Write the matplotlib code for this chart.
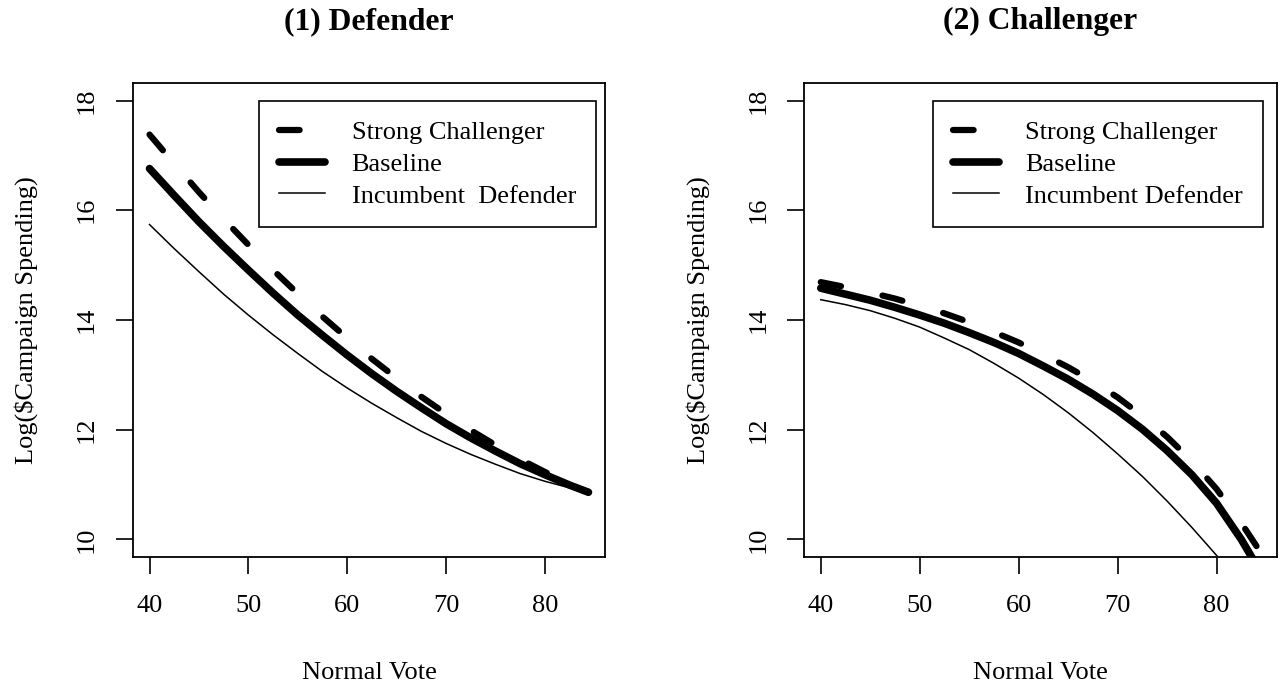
import matplotlib
matplotlib.use("Agg")
import matplotlib.pyplot as plt

# ===================== data =====================
vote = [40, 42.5, 45, 47.5, 50, 52.5, 55, 57.5, 60, 62.5, 65, 67.5, 70,
        72.5, 75, 77.5, 80, 82.5, 84.4]

# (1) Defender
def_strong = [17.38, 16.85, 16.33, 15.84, 15.37, 14.91, 14.48, 14.06, 13.67, 13.29,
              12.94, 12.60, 12.29, 11.99, 11.72, 11.46, 11.23, 11.01, 10.86]
def_base = [16.76, 16.27, 15.79, 15.34, 14.91, 14.49, 14.09, 13.72, 13.36, 13.02,
            12.70, 12.40, 12.11, 11.85, 11.61, 11.38, 11.18, 10.99, 10.86]
def_inc = [15.74, 15.30, 14.88, 14.47, 14.09, 13.73, 13.39, 13.06, 12.76, 12.48,
           12.22, 11.97, 11.75, 11.55, 11.37, 11.20, 11.06, 10.94, 10.86]

# (2) Challenger
chal_strong = [14.69, 14.60, 14.50, 14.39, 14.26, 14.12, 13.96, 13.78, 13.59, 13.37,
               13.14, 12.88, 12.59, 12.25, 11.87, 11.43, 10.92, 10.30, 9.78]
chal_base = [14.58, 14.47, 14.36, 14.23, 14.09, 13.94, 13.77, 13.59, 13.39, 13.16,
             12.92, 12.65, 12.35, 12.01, 11.62, 11.18, 10.66, 10.00, 9.42]
chal_inc = [14.37, 14.28, 14.17, 14.03, 13.87, 13.67, 13.46, 13.21, 12.94, 12.64,
            12.31, 11.95, 11.56, 11.15, 10.70, 10.22, 9.71, 9.18, 8.75]

x_ticks = [40, 50, 60, 70, 80]
y_ticks = [10, 12, 14, 16, 18]

panels = [
    ("(1) Defender", def_strong, def_base, def_inc, "Incumbent  Defender", 0.980),
    ("(2) Challenger", chal_strong, chal_base, chal_inc, "Incumbent Defender", 0.970),
]

# ===================== style =====================
plt.rcParams["font.family"] = ["Liberation Serif", "DejaVu Serif"]
plt.rcParams["font.size"] = 19

fig = plt.figure(figsize=(12.81, 6.88), dpi=100)
ax_pos = [[0.1036, 0.1904, 0.3689, 0.6890],
          [0.6276, 0.1904, 0.3692, 0.6890]]

for pos, (title, strong, base, inc, inc_label, leg_x) in zip(ax_pos, panels):
    ax = fig.add_axes(pos)
    ax.plot(vote, strong, color="black", lw=4.5, linestyle=(0, (3.3, 6.8)),
            dash_capstyle="round", solid_capstyle="round", label="Strong Challenger")
    ax.plot(vote, base, color="black", lw=5.5, solid_capstyle="round",
            label="Baseline")
    ax.plot(vote, inc, color="black", lw=1.1, label=inc_label)

    ax.set_xlim(38.3, 86.1)
    ax.set_ylim(9.68, 18.32)
    ax.set_xticks(x_ticks)
    ax.set_yticks(y_ticks)
    ax.tick_params(axis="both", direction="out", length=12, width=1.2,
                   labelsize=19, color="black")
    ax.tick_params(axis="x", pad=15)
    ax.tick_params(axis="y", pad=13, labelrotation=90)
    for lab in ax.get_yticklabels():
        lab.set_va("center")
    for sp in ax.spines.values():
        sp.set_linewidth(1.3)

    ax.set_xlabel("Normal Vote", fontsize=19)
    ax.xaxis.set_label_coords(0.5, -0.245)
    ax.xaxis.label.set_va("center")
    ax.set_ylabel("Log($Campaign Spending)", fontsize=19)
    ax.yaxis.set_label_coords(-0.225, 0.5)
    ax.yaxis.label.set_va("center")

    ax.text(0.5, 1.1295, title, transform=ax.transAxes, ha="center", va="center",
            fontsize=22.8, fontweight="bold")

    leg = ax.legend(loc="upper right", bbox_to_anchor=(leg_x, 0.962),
                    borderaxespad=0, fontsize=19, frameon=True, fancybox=False,
                    edgecolor="black", framealpha=1, handlelength=1.75,
                    handletextpad=1.0, labelspacing=0.31, borderpad=0.75)
    leg.get_frame().set_linewidth(1.2)

fig.savefig("out.png", dpi=100)
